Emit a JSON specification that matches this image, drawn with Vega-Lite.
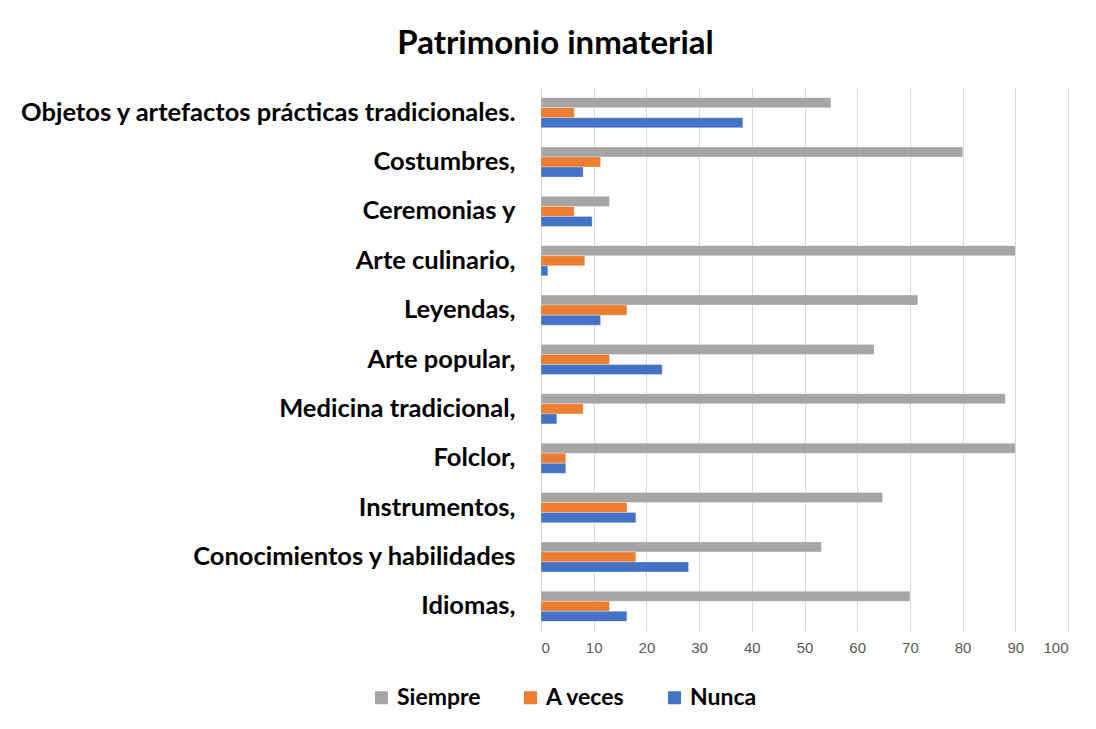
{
  "$schema": "https://vega.github.io/schema/vega-lite/v6.json",
  "autosize": {"type": "none"},
  "width": 527,
  "height": 543,
  "padding": {"left": 541, "top": 88, "right": 28, "bottom": 98},
  "background": "white",
  "title": {
    "text": "Patrimonio inmaterial",
    "font": "Lato",
    "fontSize": 33,
    "fontWeight": "bold",
    "color": "#000000",
    "anchor": "middle",
    "frame": "group",
    "dx": -249,
    "offset": 27
  },
  "data": {
    "values": [
      {"tema": "Objetos y artefactos prácticas tradicionales.", "respuesta": "Siempre", "valor": 55},
      {"tema": "Objetos y artefactos prácticas tradicionales.", "respuesta": "A veces", "valor": 6.3},
      {"tema": "Objetos y artefactos prácticas tradicionales.", "respuesta": "Nunca", "valor": 38.3},
      {"tema": "Costumbres,", "respuesta": "Siempre", "valor": 80},
      {"tema": "Costumbres,", "respuesta": "A veces", "valor": 11.3},
      {"tema": "Costumbres,", "respuesta": "Nunca", "valor": 8},
      {"tema": "Ceremonias y", "respuesta": "Siempre", "valor": 13},
      {"tema": "Ceremonias y", "respuesta": "A veces", "valor": 6.3},
      {"tema": "Ceremonias y", "respuesta": "Nunca", "valor": 9.7},
      {"tema": "Arte culinario,", "respuesta": "Siempre", "valor": 90},
      {"tema": "Arte culinario,", "respuesta": "A veces", "valor": 8.3},
      {"tema": "Arte culinario,", "respuesta": "Nunca", "valor": 1.3},
      {"tema": "Leyendas,", "respuesta": "Siempre", "valor": 71.5},
      {"tema": "Leyendas,", "respuesta": "A veces", "valor": 16.3},
      {"tema": "Leyendas,", "respuesta": "Nunca", "valor": 11.3},
      {"tema": "Arte popular,", "respuesta": "Siempre", "valor": 63.2},
      {"tema": "Arte popular,", "respuesta": "A veces", "valor": 13},
      {"tema": "Arte popular,", "respuesta": "Nunca", "valor": 23},
      {"tema": "Medicina tradicional,", "respuesta": "Siempre", "valor": 88.1},
      {"tema": "Medicina tradicional,", "respuesta": "A veces", "valor": 8},
      {"tema": "Medicina tradicional,", "respuesta": "Nunca", "valor": 3},
      {"tema": "Folclor,", "respuesta": "Siempre", "valor": 90},
      {"tema": "Folclor,", "respuesta": "A veces", "valor": 4.7},
      {"tema": "Folclor,", "respuesta": "Nunca", "valor": 4.7},
      {"tema": "Instrumentos,", "respuesta": "Siempre", "valor": 64.8},
      {"tema": "Instrumentos,", "respuesta": "A veces", "valor": 16.3},
      {"tema": "Instrumentos,", "respuesta": "Nunca", "valor": 18},
      {"tema": "Conocimientos y habilidades", "respuesta": "Siempre", "valor": 53.2},
      {"tema": "Conocimientos y habilidades", "respuesta": "A veces", "valor": 18},
      {"tema": "Conocimientos y habilidades", "respuesta": "Nunca", "valor": 28},
      {"tema": "Idiomas,", "respuesta": "Siempre", "valor": 70},
      {"tema": "Idiomas,", "respuesta": "A veces", "valor": 13},
      {"tema": "Idiomas,", "respuesta": "Nunca", "valor": 16.3}
    ]
  },
  "mark": {"type": "bar", "stroke": "white", "strokeWidth": 0.5, "strokeOpacity": 0.6},
  "encoding": {
    "y": {
      "field": "tema",
      "type": "nominal",
      "sort": null,
      "scale": {"paddingInner": 0.39, "paddingOuter": 0.195},
      "axis": {
        "title": null,
        "domain": false,
        "ticks": false,
        "grid": false,
        "labelPadding": 26,
        "labelFont": "Lato",
        "labelFontSize": 25.5,
        "labelFontWeight": "bold",
        "labelColor": "#000000",
        "labelLimit": 700
      }
    },
    "yOffset": {
      "field": "respuesta",
      "type": "nominal",
      "scale": {"domain": ["Siempre", "A veces", "Nunca"], "paddingInner": 0}
    },
    "x": {
      "field": "valor",
      "type": "quantitative",
      "scale": {"domain": [0, 100], "nice": false},
      "axis": {
        "title": null,
        "values": [0, 10, 20, 30, 40, 50, 60, 70, 80, 90, 100],
        "domain": false,
        "ticks": false,
        "grid": true,
        "gridColor": "#D9D9D9",
        "gridWidth": 1,
        "labelPadding": 9,
        "labelFont": "Liberation Sans",
        "labelFontSize": 15,
        "labelColor": "#595959"
      }
    },
    "color": {
      "field": "respuesta",
      "type": "nominal",
      "scale": {"domain": ["Siempre", "A veces", "Nunca"], "range": ["#A5A5A5", "#ED7D31", "#4472C4"]},
      "legend": {
        "title": null,
        "orient": "none",
        "direction": "horizontal",
        "legendX": -171,
        "legendY": 598,
        "padding": 0,
        "symbolType": "square",
        "symbolSize": 169,
        "symbolStrokeWidth": 0,
        "labelFont": "Lato",
        "labelFontSize": 23,
        "labelFontWeight": "bold",
        "labelColor": "#000000",
        "labelOffset": 4,
        "columnPadding": 38
      }
    }
  },
  "config": {"view": {"stroke": null}}
}
